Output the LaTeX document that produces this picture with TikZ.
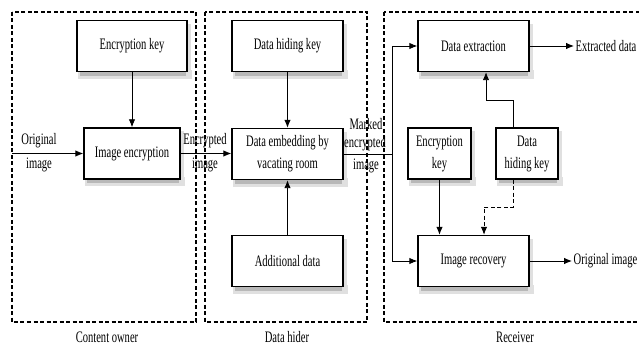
\documentclass[tikz,border=0pt]{standalone}
\usepackage{fontspec}
\setmainfont{Liberation Serif}[FakeStretch=0.66]
\usetikzlibrary{arrows.meta}
\begin{document}
\begin{tikzpicture}[x=1pt,y=-1pt,
  txt/.style={font=\fontsize{16}{22}\selectfont},
  blk/.style={txt,draw,line width=1.4pt,fill=white,minimum width=111pt,minimum height=51pt,align=center,inner sep=0pt},
  lbl/.style={txt,inner sep=1.5pt},
  cont/.style={draw,dash pattern=on 4pt off 2.5pt,line width=1.2pt},
  arr/.style={-{Latex[length=8pt,width=6.5pt]},line width=0.9pt},
  ln/.style={line width=0.9pt},
  shdA/.style={fill=black!12,draw=none},
  shdB/.style={fill=black!28,draw=none}]
\useasboundingbox (0,0) rectangle (639,347);
% containers
\draw[cont] (12,12) rectangle (196,322);
\draw[cont] (205,12) rectangle (367,322);
\draw[cont] (384,12) rectangle (660,322);
% shadows (drawn under the blocks)
\foreach \cx/\cy/\w in {132/46/110, 132/153.5/96, 287.5/46/111, 287.5/154/111, 287.5/261/111,
                        473.5/46/111, 439.5/153.5/63, 527/153.5/62, 473.5/261/111}{
  \fill[shdA] (\cx-\w/2+1,\cy+24) rectangle (\cx+\w/2+4.5,\cy+33);
  \fill[shdB] (\cx-\w/2+3,\cy+24) rectangle (\cx+\w/2+3,\cy+30);
  \fill[shdA] (\cx+\w/2-1,\cy-22) rectangle (\cx+\w/2+3.5,\cy+30);
}
% blocks
\node[blk,minimum width=110pt] (ek) at (132,46) {Encryption key};
\node[blk,minimum width=96pt] (ie) at (132,153.5) {Image encryption};
\node[blk] (dhk) at (287.5,46) {Data hiding key};
\node[blk] (de) at (287.5,154) {Data embedding by\\vacating room};
\node[blk] (ad) at (287.5,261) {Additional data};
\node[blk] (dx) at (473.5,46) {Data extraction};
\node[blk,minimum width=63pt] (ek2) at (439.5,153.5) {Encryption\\key};
\node[blk,minimum width=62pt] (dhk2) at (527,153.5) {Data\\hiding key};
\node[blk] (ir) at (473.5,261) {Image recovery};
% labels
\node[lbl] (l1a) at (39,141) {Original};
\node[lbl] (l1b) at (39,165) {image};
\node[lbl] (l2a) at (205,141) {Encrypted};
\node[lbl] (l2b) at (205,165) {image};
\node[lbl] (l3a) at (366,124) {Marked};
\node[lbl] (l3b) at (365,144) {encrypted};
\node[lbl] (l3c) at (366,166) {image};
\node[lbl,anchor=west] (xd) at (574,46) {Extracted data};
\node[lbl,anchor=west] (oo) at (572,261) {Original image};
\node[lbl] (c1) at (107,337) {Content owner};
\node[lbl] (c2) at (287,337) {Data hider};
\node[lbl] (c3) at (515,337) {Receiver};
% connectors
\coordinate (in) at (12,153.5);
\draw[arr] (in) -- (ie.west);
\draw[arr] (ek) -- (ie);
\draw[arr] (ie.east) -- (ie.east -| de.west);
\draw[arr] (dhk) -- (de);
\draw[arr] (ad) -- (de);
\coordinate (j) at (392,154);
\draw[ln] (de.east) -- (j);
\draw[arr] (j) |- (dx.west);
\draw[arr] (j) |- (ir.west);
\draw[arr] (dx.east) -- (xd.west);
\draw[arr] (ir.east) -- (oo.west);
\coordinate (p1) at (513,100);
\coordinate (p2) at (486,0);
\draw[arr] (dhk2.north -| p1) -- (p1) -| (dx.south -| p2);
\coordinate (q1) at (513,207);
\coordinate (q2) at (484,0);
\draw[arr,dash pattern=on 4pt off 2.5pt] (dhk2.south -| q1) -- (q1) -| (ir.north -| q2);
\draw[arr] (ek2.south) -- (ek2.south |- ir.north);
\end{tikzpicture}
\end{document}
